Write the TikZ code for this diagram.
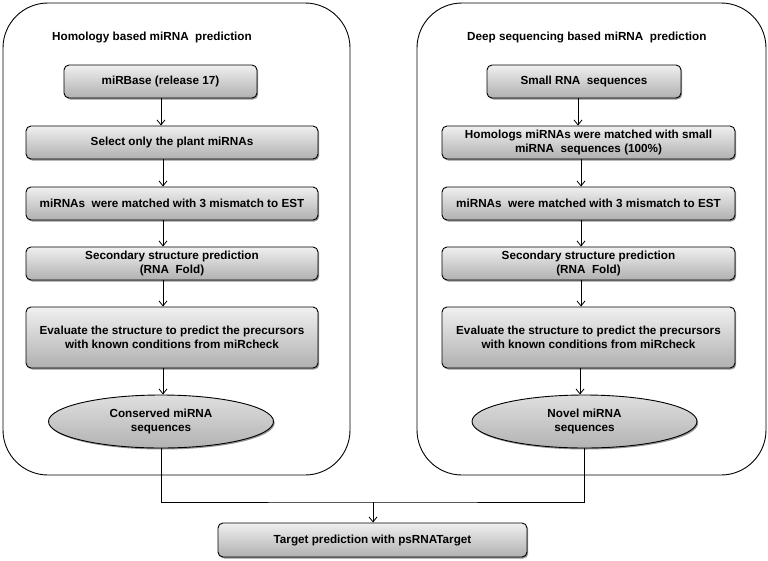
\documentclass[tikz,border=0pt]{standalone}
\usepackage{fontspec}
\setmainfont{Liberation Sans}
\usetikzlibrary{shapes.geometric,shadows,arrows.meta}
\begin{document}
\begin{tikzpicture}[x=1pt,y=-1pt,
  font=\fontsize{11.7}{13.5}\selectfont\bfseries,
  container/.style={draw=black,line width=0.9pt,rounded corners=45pt},
  procbox/.style={draw=black,line width=0.9pt,rounded corners=5pt,top color=gray!12,bottom color=gray!62,
     drop shadow={shadow xshift=1.2pt,shadow yshift=-1.5pt,fill=black!70,opacity=0.6},
     align=center,inner sep=0pt},
  endell/.style={draw=black,line width=0.9pt,ellipse,top color=gray!25,bottom color=gray!60,
     drop shadow={shadow xshift=1.2pt,shadow yshift=-1.5pt,fill=black!70,opacity=0.6},
     align=center,inner sep=0pt},
  conn/.style={draw=black,line width=0.8pt},
  arr/.style={conn,-{Straight Barb[length=5pt,width=8pt]}},
  ttl/.style={anchor=west,inner sep=0pt}
]
\useasboundingbox (0,0) rectangle (768,560);
\draw[container] (3,3) rectangle (350,475);
\draw[container] (417,3) rectangle (766,475);
\node[ttl] (t1) at (52,37) {Homology based miRNA\ \ prediction};
\node[ttl] (t2) at (467,37) {Deep sequencing based miRNA\ \ prediction};

% left column
\node[procbox,minimum width=193pt,minimum height=33pt] (l1) at (160.5,81.5) {miRBase (release 17)};
\node[procbox,minimum width=292pt,minimum height=33pt] (l2) at (172,142.5) {Select only the plant miRNAs};
\node[procbox,minimum width=292pt,minimum height=33pt] (l3) at (172,203.5) {miRNAs\ \ were matched with 3 mismatch to EST};
\node[procbox,minimum width=292pt,minimum height=33pt] (l4) at (172,263.5) {Secondary structure prediction\\(RNA\ \ Fold)};
\node[procbox,minimum width=292pt,minimum height=61pt] (l5) at (172,337.5) {Evaluate the structure to predict the precursors\\with known conditions from miRcheck};
\node[endell,minimum width=225pt,minimum height=53pt] (l6) at (161,421.5) {Conserved miRNA\\sequences};

% right column
\node[procbox,minimum width=194pt,minimum height=33pt] (r1) at (584,81.5) {Small RNA\ \ sequences};
\node[procbox,minimum width=293pt,minimum height=33pt] (r2) at (588.5,142.5) {Homologs miRNAs were matched with small\\miRNA\ \ sequences (100\%)};
\node[procbox,minimum width=293pt,minimum height=33pt] (r3) at (588.5,203.5) {miRNAs\ \ were matched with 3 mismatch to EST};
\node[procbox,minimum width=293pt,minimum height=33pt] (r4) at (588.5,263.5) {Secondary structure prediction\\(RNA\ \ Fold)};
\node[procbox,minimum width=293pt,minimum height=61pt] (r5) at (588.5,337.5) {Evaluate the structure to predict the precursors\\with known conditions from miRcheck};
\node[endell,minimum width=225pt,minimum height=53pt] (r6) at (584.5,421.5) {Novel miRNA\\sequences};

% target
\node[procbox,minimum width=309pt,minimum height=34pt] (tg) at (372.5,540) {Target prediction with psRNATarget};

% arrows left
\draw[arr] (l1.south -| 161,0) -- (l2.north -| 161,0);
\draw[arr] (l2.south -| 163,0) -- (l3.north -| 163,0);
\draw[arr] (l3.south -| 163,0) -- (l4.north -| 163,0);
\draw[arr] (l4.south -| 163,0) -- (l5.north -| 163,0);
\draw[arr] (l5.south -| 163,0) -- (l6.north -| 163,0);
% arrows right
\draw[arr] (r1.south -| 578,0) -- (r2.north -| 578,0);
\draw[arr] (r2.south -| 581,0) -- (r3.north -| 581,0);
\draw[arr] (r3.south -| 581,0) -- (r4.north -| 581,0);
\draw[arr] (r4.south -| 581,0) -- (r5.north -| 581,0);
\draw[arr] (r5.south -| 580,0) -- (r6.north -| 580,0);

% merge
\coordinate (m) at (373,502);
\draw[conn] (l6.south) |- (m) -| (r6.south);
\draw[arr] (m) -- (tg.north -| m);
\end{tikzpicture}
\end{document}
